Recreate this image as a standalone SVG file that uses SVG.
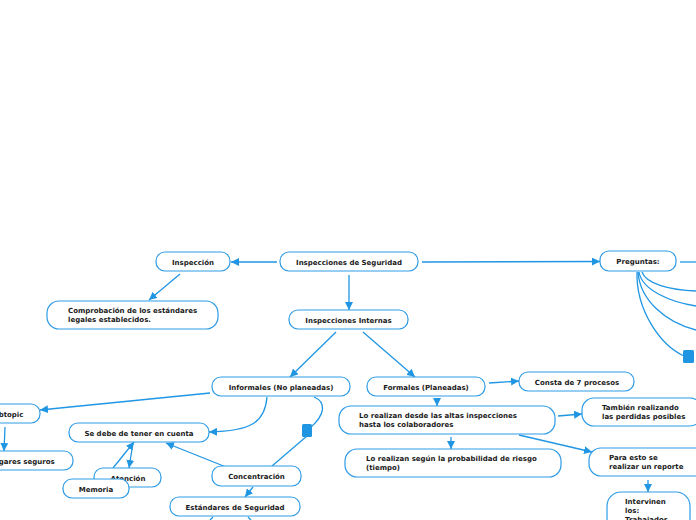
<svg xmlns="http://www.w3.org/2000/svg" width="696" height="520" viewBox="0 0 696 520">
<style>
.n rect{fill:#fff;stroke:#2e9be6;stroke-width:1.2}
.n text{font-family:"DejaVu Sans",Verdana,sans-serif;font-weight:bold;font-size:7px;fill:#1a1a1a}
.c{text-anchor:middle}
#connectors path,#connectors line{fill:none;stroke:#2096e3;stroke-width:1.3}
.sq{fill:#2096e3}
</style>
<defs>
<marker id="a" viewBox="0 0 10 10" refX="10" refY="5" markerWidth="8" markerHeight="8" markerUnits="userSpaceOnUse" orient="auto">
<path d="M0,0 L10,5 L0,10 z" fill="#2096e3"/>
</marker>
</defs>
<rect width="696" height="520" fill="#fff"/>
<g id="connectors">
<line x1="277" y1="262" x2="231" y2="262" marker-end="url(#a)"/>
<line x1="422" y1="262" x2="600" y2="261.5" marker-end="url(#a)"/>
<line x1="680" y1="262" x2="696" y2="262"/>
<line x1="180" y1="274" x2="149" y2="300" marker-end="url(#a)"/>
<line x1="349" y1="275" x2="349" y2="310" marker-end="url(#a)"/>
<line x1="336" y1="332" x2="290" y2="377" marker-end="url(#a)"/>
<line x1="363" y1="332" x2="415" y2="377" marker-end="url(#a)"/>
<line x1="210" y1="393" x2="40" y2="410" marker-end="url(#a)"/>
<line x1="5" y1="427" x2="4" y2="451" marker-end="url(#a)"/>
<path d="M267,397 C265,422 252,431 209,432" marker-end="url(#a)"/>
<path d="M314,397 C326,402 326,414 310,428"/>
<line x1="307" y1="436" x2="272" y2="466"/>
<line x1="226" y1="467" x2="166" y2="443" marker-end="url(#a)"/>
<line x1="253" y1="487" x2="245" y2="497" marker-end="url(#a)"/>
<line x1="113" y1="468" x2="134" y2="442" marker-end="url(#a)"/>
<line x1="133" y1="443" x2="129" y2="468" marker-end="url(#a)"/>
<line x1="213" y1="517" x2="210" y2="520"/>
<line x1="248" y1="517" x2="251" y2="520"/>
<line x1="437" y1="398" x2="437" y2="406" marker-end="url(#a)"/>
<line x1="489" y1="383" x2="519" y2="381" marker-end="url(#a)"/>
<line x1="451" y1="437" x2="451" y2="449" marker-end="url(#a)"/>
<line x1="558" y1="416" x2="582" y2="414" marker-end="url(#a)"/>
<line x1="519" y1="435" x2="592" y2="452" marker-end="url(#a)"/>
<line x1="648" y1="480" x2="648" y2="492" marker-end="url(#a)"/>
<path d="M642,272 C646,284 670,290 696,291"/>
<path d="M639,272 C642,290 670,302 696,306"/>
<path d="M638,272 C640,300 665,322 696,330"/>
<path d="M637,272 C636,310 660,345 684,356"/>
<rect class="sq" x="683" y="350" width="11" height="13" rx="1.5"/>
<rect class="sq" x="302" y="424" width="10" height="13" rx="1.5"/>
</g>
<g id="n-seguridad" class="n"><rect x="280" y="252" width="138" height="19" rx="9"/><text class="c" x="349" y="264.5">Inspecciones de Seguridad</text></g>
<g id="n-inspeccion" class="n"><rect x="156" y="252" width="74" height="19" rx="9"/><text class="c" x="193" y="264.5">Inspección</text></g>
<g id="n-comprobacion" class="n"><rect x="47" y="301" width="171" height="28" rx="12"/><text x="68" y="313">Comprobación de los estándares</text><text x="68" y="322">legales establecidos.</text></g>
<g id="n-preguntas" class="n"><rect x="600" y="251" width="76" height="20" rx="9"/><text class="c" x="638" y="264">Preguntas:</text></g>
<g id="n-internas" class="n"><rect x="289" y="310" width="119" height="19" rx="9"/><text class="c" x="348.5" y="322.5">Inspecciones Internas</text></g>
<g id="n-informales" class="n"><rect x="212" y="377" width="138" height="19" rx="9"/><text class="c" x="281" y="389.5">Informales (No planeadas)</text></g>
<g id="n-formales" class="n"><rect x="367" y="377" width="118" height="19" rx="9"/><text class="c" x="426" y="389.5">Formales (Planeadas)</text></g>
<g id="n-consta" class="n"><rect x="519" y="372" width="115" height="19" rx="9"/><text class="c" x="577" y="384.5">Consta de 7 procesos</text></g>
<g id="n-desde" class="n"><rect x="339" y="406" width="216" height="28" rx="12"/><text x="359" y="418">Lo realizan desde las altas inspecciones</text><text x="359" y="427">hasta los colaboradores</text></g>
<g id="n-segun" class="n"><rect x="345" y="449" width="216" height="28" rx="12"/><text x="366" y="461">Lo realizan según la probabilidad de riesgo</text><text x="366" y="470">(tiempo)</text></g>
<g id="n-tambien" class="n"><rect x="582" y="398" width="120" height="28" rx="12"/><text x="602" y="410">También realizando</text><text x="602" y="419">las perdidas posibles</text></g>
<g id="n-para" class="n"><rect x="589" y="448" width="120" height="28" rx="12"/><text x="609" y="460">Para esto se</text><text x="609" y="469">realizar un reporte</text></g>
<g id="n-intervinen" class="n"><rect x="607" y="492" width="83" height="40" rx="14"/><text x="625" y="504">Intervinen</text><text x="625" y="513">los:</text><text x="625" y="522">Trabajador</text></g>
<g id="n-subtopic" class="n"><rect x="-40" y="404" width="80" height="19" rx="9"/><text class="c" x="6" y="416.5">Subtopic</text></g>
<g id="n-lugares" class="n"><rect x="-40" y="451" width="113" height="19" rx="9"/><text class="c" x="22" y="463.5">Lugares seguros</text></g>
<g id="n-sedebe" class="n"><rect x="69" y="423" width="140" height="19" rx="9"/><text class="c" x="139" y="435.5">Se debe de tener en cuenta</text></g>
<g id="n-atencion" class="n"><rect x="94" y="468" width="67" height="19" rx="9"/><text class="c" x="128" y="480.5">Atención</text></g>
<g id="n-memoria" class="n"><rect x="63" y="479" width="66" height="19" rx="9"/><text class="c" x="96" y="491.5">Memoria</text></g>
<g id="n-concentracion" class="n"><rect x="212" y="466" width="89" height="20" rx="9"/><text class="c" x="256.5" y="479">Concentración</text></g>
<g id="n-estandares" class="n"><rect x="170" y="497" width="130" height="19" rx="9"/><text class="c" x="235" y="509.5">Estándares de Seguridad</text></g>
</svg>
